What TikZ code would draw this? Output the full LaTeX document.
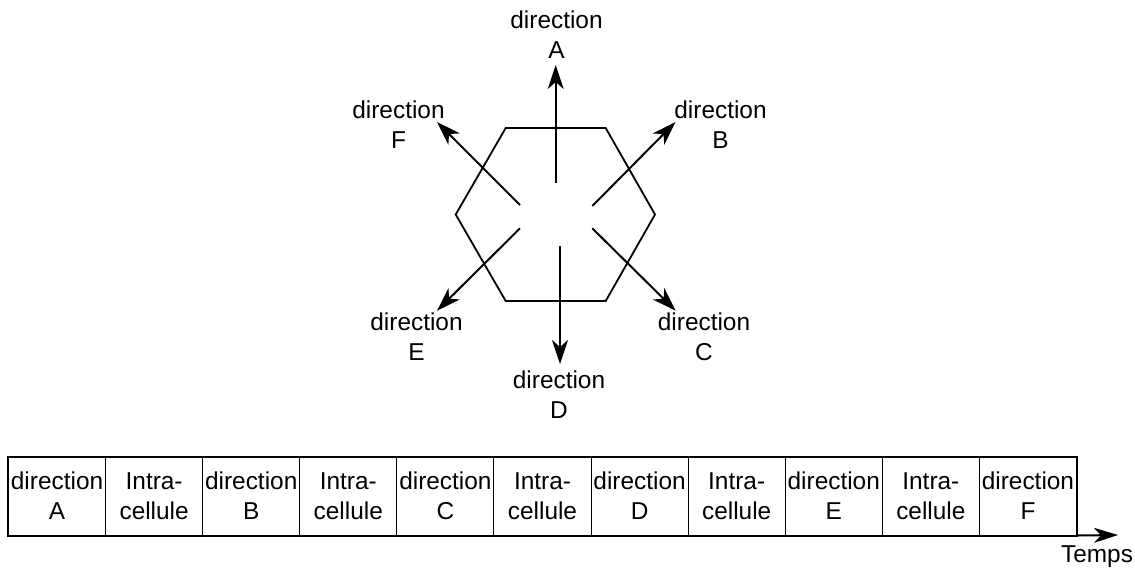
\documentclass[tikz,border=0pt]{standalone}
\usepackage{fontspec}
\setmainfont{Liberation Sans}
\usetikzlibrary{arrows.meta}
\begin{document}
\begin{tikzpicture}[x=0.5pt,y=-0.5pt,
  lbl/.style={align=center, inner sep=0pt, font=\fontsize{12.2}{15}\selectfont},
  arr/.style={line width=1pt, -{Stealth[length=12pt,width=8pt,inset=3.5pt]}},
  tarr/.style={line width=1pt, -{Stealth[length=12pt,width=7.5pt,inset=3.5pt]}},
  hex/.style={line width=0.9pt, line join=miter},
  cell/.style={draw, line width=0.5pt, minimum width=48.545pt, minimum height=39pt,
    inner sep=0pt, align=center, anchor=west, font=\fontsize{12.2}{15}\selectfont},
  frame/.style={draw, line width=1pt}
]
\useasboundingbox (0,0) rectangle (1135,570);

% hexagon
\draw[hex] (505.7,128) -- (605.7,128) -- (655,214.5) -- (605.7,301) -- (505.7,301) -- (455.7,214.5) -- cycle;

% arrow endpoints
\coordinate (sA) at (555.7,183);   \coordinate (tA) at (555.7,65);
\coordinate (sB) at (592.3,206);   \coordinate (tB) at (675.5,122);
\coordinate (sC) at (592.3,228.3); \coordinate (tC) at (675.7,310.7);
\coordinate (sD) at (560,246);     \coordinate (tD) at (560,364);
\coordinate (sE) at (520,228.3);   \coordinate (tE) at (437,310.7);
\coordinate (sF) at (520,205);     \coordinate (tF) at (437,122);

\draw[arr] (sA) -- (tA);
\draw[arr] (sB) -- (tB);
\draw[arr] (sC) -- (tC);
\draw[arr] (sD) -- (tD);
\draw[arr] (sE) -- (tE);
\draw[arr] (sF) -- (tF);

% labels
\node[lbl] (lA) at (556.5,35) {direction\\A};
\node[lbl] (lB) at (720.5,125) {direction\\B};
\node[lbl] (lC) at (704,337) {direction\\C};
\node[lbl] (lD) at (559,395) {direction\\D};
\node[lbl] (lE) at (416.5,337) {direction\\E};
\node[lbl] (lF) at (398.5,125) {direction\\F};

% timeline
\node[cell] (c1) at (8,496) {direction\\A};
\node[cell] (c2) at (105.09,496) {Intra-\\cellule};
\node[cell] (c3) at (202.18,496) {direction\\B};
\node[cell] (c4) at (299.27,496) {Intra-\\cellule};
\node[cell] (c5) at (396.36,496) {direction\\C};
\node[cell] (c6) at (493.45,496) {Intra-\\cellule};
\node[cell] (c7) at (590.54,496) {direction\\D};
\node[cell] (c8) at (687.63,496) {Intra-\\cellule};
\node[cell] (c9) at (784.72,496) {direction\\E};
\node[cell] (c10) at (881.81,496) {Intra-\\cellule};
\node[cell] (c11) at (978.9,496) {direction\\F};
\draw[frame] (c1.north west) rectangle (c11.south east);

\coordinate (tEnd) at (1118,535);
\draw[tarr] (c11.south east) -- (tEnd);
\node[lbl] (temps) at (1097,557) {Temps};
\end{tikzpicture}
\end{document}
